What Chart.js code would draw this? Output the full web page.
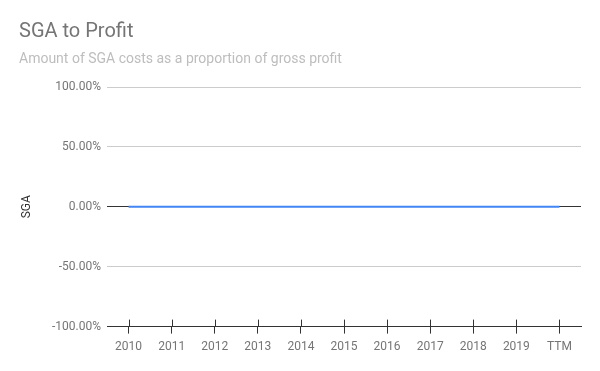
<!DOCTYPE html>
<html>
<head>
<meta charset="utf-8">
<script src="https://cdn.jsdelivr.net/npm/chart.js@4"></script>
<style>
  html, body { margin: 0; padding: 0; background: #fff; }
  #wrap { width: 600px; height: 371px; }
</style>
</head>
<body>
<div id="wrap"><canvas id="sgaChart"></canvas></div>
<script>
// chart data
const years = ['2010', '2011', '2012', '2013', '2014', '2015', '2016', '2017', '2018', '2019', 'TTM'];
const sgaValues = [0, 0, 0, 0, 0, 0, 0, 0, 0, 0, 0];
const yTicks = [-100, -50, 0, 50, 100];

// draw the part of the x tick marks that sits above the axis line
const upperTicks = {
    id: 'upperTicks',
    beforeDatasetsDraw(chart) {
        const ctx = chart.ctx;
        const x = chart.scales.x;
        const bottom = chart.chartArea.bottom;
        ctx.save();
        ctx.strokeStyle = '#333';
        ctx.lineWidth = 1;
        years.forEach((y, i) => {
            const px = Math.round(x.getPixelForValue(i)) + 0.5;
            ctx.beginPath();
            ctx.moveTo(px, bottom - 7);
            ctx.lineTo(px, bottom);
            ctx.stroke();
        });
        ctx.restore();
    }
};

const ctx = document.getElementById('sgaChart').getContext('2d');
new Chart(ctx, {
    type: 'line',
    data: {
        labels: years,
        datasets: [{
            label: 'SGA',
            data: sgaValues,
            borderColor: '#4285F4',
            borderWidth: 2,
            pointRadius: 0,
            fill: false,
            tension: 0
        }]
    },
    options: {
        responsive: true,
        maintainAspectRatio: false,
        animation: false,
        layout: { padding: { left: 19, right: 19, top: 0, bottom: 11 } },
        plugins: {
            legend: { display: false },
            tooltip: { enabled: false },
            title: {
                display: true,
                text: 'SGA to Profit',
                align: 'start',
                color: '#757575',
                font: { family: 'Roboto', size: 20, weight: 'normal' },
                padding: { top: 20, bottom: 0 }
            },
            subtitle: {
                display: true,
                text: 'Amount of SGA costs as a proportion of gross profit',
                align: 'start',
                color: '#bdbdbd',
                font: { family: 'Roboto', size: 14, weight: 'normal' },
                padding: { top: 6.6, bottom: 19.6 }
            }
        },
        scales: {
            x: {
                offset: true,
                grid: {
                    display: true,
                    offset: false,
                    drawOnChartArea: false,
                    drawTicks: true,
                    tickLength: 7,
                    color: '#333'
                },
                border: { display: true, color: '#333', width: 1 },
                ticks: {
                    color: '#757575',
                    padding: 6,
                    maxRotation: 0,
                    font: { family: 'Roboto', size: 12 }
                }
            },
            y: {
                min: -100,
                max: 100,
                afterBuildTicks: (scale) => {
                    scale.ticks = yTicks.map(v => ({ value: v }));
                },
                afterFit: (scale) => { scale.width = 88; },
                grid: {
                    drawTicks: false,
                    color: (c) => c.tick && (c.tick.value === 0 || c.tick.value === -100) ? '#333' : '#cccccc'
                },
                border: { display: false },
                ticks: {
                    color: '#757575',
                    padding: 6,
                    font: { family: 'Roboto', size: 12 },
                    callback: (v) => v.toFixed(2) + '%'
                },
                title: {
                    display: true,
                    text: 'SGA',
                    color: '#333',
                    font: { family: 'Roboto', size: 12 },
                    padding: { top: 1, bottom: 0 }
                }
            }
        }
    },
    plugins: [upperTicks]
});
</script>
</body>
</html>
